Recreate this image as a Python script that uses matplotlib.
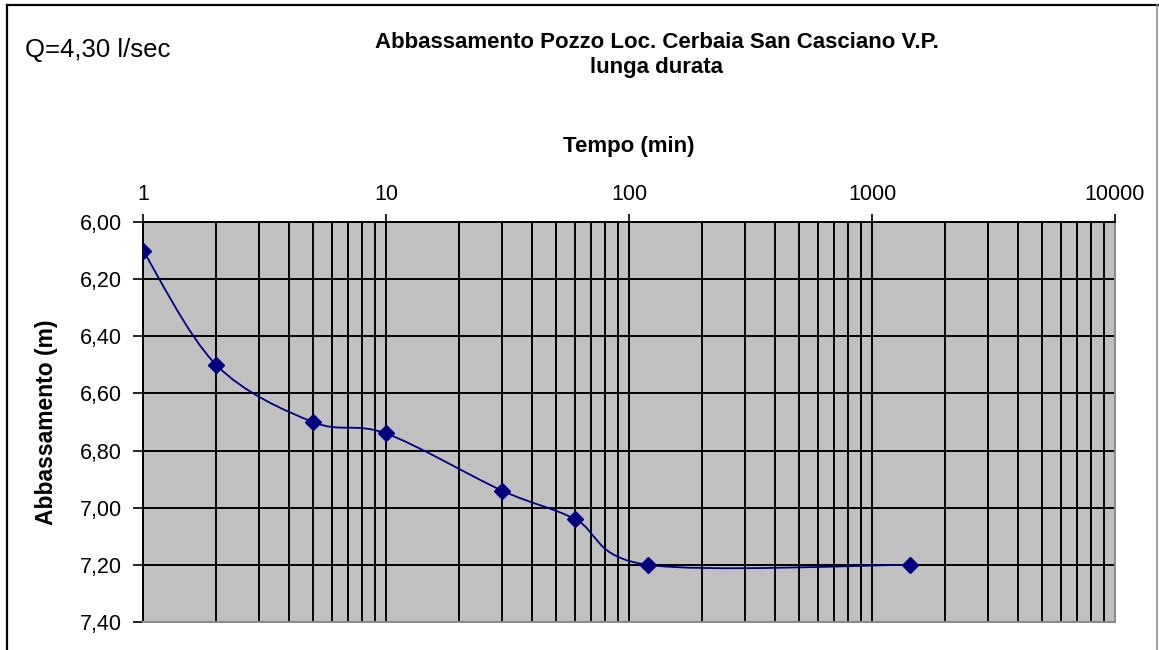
import numpy as np
import matplotlib.pyplot as plt
from matplotlib.path import Path
from matplotlib.patches import PathPatch
from matplotlib.lines import Line2D
from matplotlib.ticker import LogLocator, FixedLocator, FuncFormatter, NullFormatter

plt.rcParams['font.family'] = ['Liberation Sans', 'DejaVu Sans']

## Data
tempo = [1, 2, 5, 10, 30, 60, 120, 1440]          # min
abbassamento = [6.10, 6.50, 6.70, 6.74, 6.94, 7.04, 7.20, 7.20]   # m
x_ticks = [1, 10, 100, 1000, 10000]
y_ticks = [6.00, 6.20, 6.40, 6.60, 6.80, 7.00, 7.20, 7.40]

title = 'Abbassamento Pozzo Loc. Cerbaia San Casciano V.P.\nlunga durata'
portata = 'Q=4,30 l/sec'


## Excel-like smoothed line (bezier, catmull-rom tangents / 6) in log-x space
def smooth_path(x, y):
    px = np.log10(np.asarray(x, dtype=float))
    py = np.asarray(y, dtype=float)
    n = len(px)
    verts = [(px[0], py[0])]
    codes = [Path.MOVETO]
    for i in range(n - 1):
        a = max(i - 1, 0)
        b = min(i + 2, n - 1)
        c1 = (px[i] + (px[i + 1] - px[a]) / 6, py[i] + (py[i + 1] - py[a]) / 6)
        c2 = (px[i + 1] - (px[b] - px[i]) / 6, py[i + 1] - (py[b] - py[i]) / 6)
        verts += [c1, c2, (px[i + 1], py[i + 1])]
        codes += [Path.CURVE4] * 3
    verts = np.array(verts)
    verts[:, 0] = 10 ** verts[:, 0]
    return Path(verts, codes)


fig = plt.figure(figsize=(11.59, 6.5), dpi=100)
ax = fig.add_axes([143 / 1159, 28 / 650, 972 / 1159, 400 / 650])
ax.set_facecolor('#C0C0C0')

ax.set_xscale('log')
ax.set_xlim(1, 10000)
ax.set_ylim(7.40, 6.00)

ax.xaxis.tick_top()
ax.xaxis.set_label_position('top')
ax.xaxis.set_major_locator(FixedLocator(x_ticks))
ax.xaxis.set_major_formatter(FuncFormatter(lambda v, p: '%d' % v))
ax.xaxis.set_minor_locator(LogLocator(base=10, subs=np.arange(2, 10), numticks=20))
ax.xaxis.set_minor_formatter(NullFormatter())
ax.set_yticks(y_ticks)
ax.yaxis.set_major_formatter(FuncFormatter(lambda v, p: ('%.2f' % v).replace('.', ',')))

ax.tick_params(axis='x', which='major', length=6, width=1.2, pad=6, labelsize=15.5)
ax.tick_params(axis='x', which='minor', length=0)
ax.tick_params(axis='y', length=7, width=1.2, pad=8, labelsize=15.5)

ax.set_axisbelow(True)
ax.grid(True, which='both', axis='x', color='black', linewidth=1.4)
ax.grid(True, which='major', axis='y', color='black', linewidth=1.4)

for s in ['top', 'left']:
    ax.spines[s].set_color('black')
    ax.spines[s].set_linewidth(1.4)
for s in ['right', 'bottom']:
    ax.spines[s].set_color('#8C8C8C')
    ax.spines[s].set_linewidth(1.4)

ax.add_patch(PathPatch(smooth_path(tempo, abbassamento), facecolor='none',
                       edgecolor='#000080', linewidth=1.3, zorder=3))
ax.plot(tempo, abbassamento, linestyle='none', marker='D', markersize=8,
        color='#000080', zorder=4)

ax.set_xlabel('Tempo (min)', fontsize=16, fontweight='bold')
ax.xaxis.set_label_coords(0.5, 1 + (222 - 152) / 400)
ax.set_ylabel('Abbassamento (m)', fontsize=16.5, fontweight='bold')
ax.yaxis.set_label_coords((58 - 143) / 972, 0.5)

fig.text(657 / 1159, 1 - 55 / 650, title, ha='center', va='center',
         fontsize=16, fontweight='bold', linespacing=1.2)
fig.text(25 / 1159, 1 - 50 / 650, portata, ha='left', va='center', fontsize=18.5)

# outer chart border
fig.add_artist(Line2D([7 / 1159, 7 / 1159], [0, 1 - 5 / 650], color='black', linewidth=1.6))
fig.add_artist(Line2D([7 / 1159, 1158 / 1159], [1 - 5 / 650, 1 - 5 / 650], color='black', linewidth=1.6))
fig.add_artist(Line2D([1157 / 1159, 1157 / 1159], [0, 1 - 5 / 650], color='#8C8C8C', linewidth=1.2))

fig.savefig('out.png', dpi=100)
